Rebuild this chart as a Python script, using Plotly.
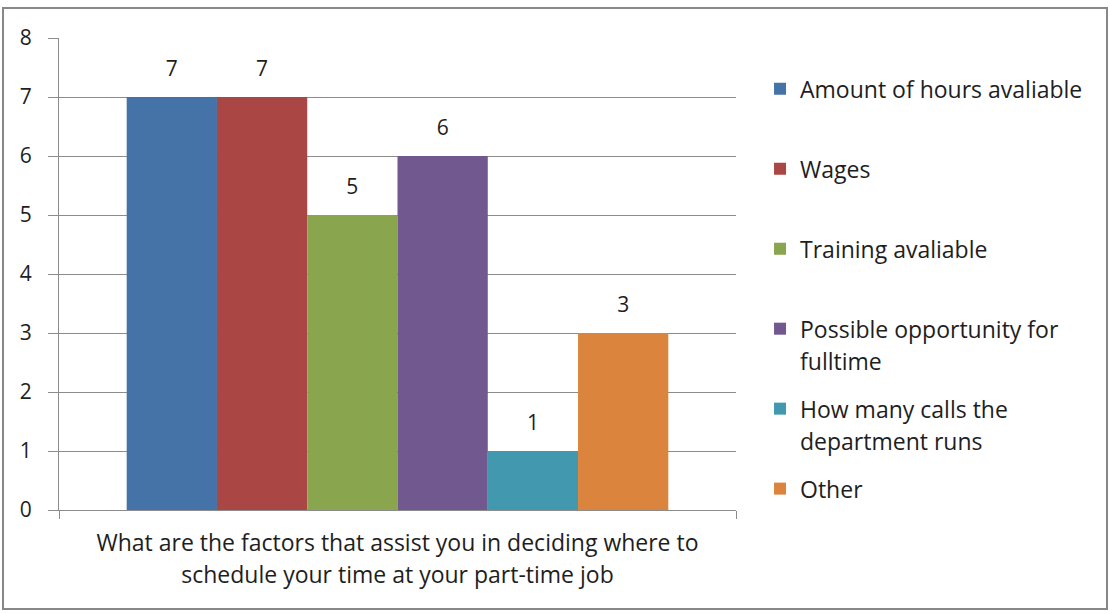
import plotly.graph_objects as go

category = ["What are the factors that assist you in deciding where to<br>schedule your time at your part-time job"]
series_names = [
    "Amount of hours avaliable",
    "Wages",
    "Training avaliable",
    "Possible opportunity for<br>fulltime",
    "How many calls the<br>department runs",
    "Other",
]
series_values = [7, 7, 5, 6, 1, 3]
series_colors = ["#4572A7", "#AA4643", "#89A54E", "#71588F", "#4198AF", "#DB843D"]

FONT = "Open Sans"
FS = 23      # legend / category label
FS_NUM = 21  # tick numbers and data labels
TXT = "#1e1e1e"
GRID = "#8c8c8c"


def span(s, size):
    return f"<span style='font-size:{size}px'>{s}</span>"


def legend_name(name, last):
    lines = name.split("<br>")
    if len(lines) == 1 and not last:
        lines.append("\u00a0")
    return "<br>".join(span(l, FS) for l in lines)


fig = go.Figure()
n = len(series_names)
for i, (name, val, col) in enumerate(zip(series_names, series_values, series_colors)):
    fig.add_trace(go.Bar(
        x=category,
        y=[val],
        name=legend_name(name, i == n - 1),
        legendgroup=name,
        marker=dict(color=col, line=dict(width=0)),
        text=[span(str(val), FS_NUM) + "<br>" + span("\u00a0", 1)],
        textposition="outside",
        textfont=dict(family=FONT, size=13.8, color=TXT),
        cliponaxis=False,
        hoverinfo="skip",
    ))

label_text = "<br>".join(span(l, FS) for l in category[0].split("<br>"))

fig.update_layout(
    width=1110,
    height=614,
    margin=dict(l=59, r=374, t=38, b=104),
    paper_bgcolor="white",
    plot_bgcolor="white",
    barmode="group",
    bargap=0.2,
    bargroupgap=0,
    font=dict(family=FONT, color=TXT, size=FS_NUM),
    showlegend=True,
    legend=dict(
        x=1.0355, y=0.94, xanchor="left", yanchor="top",
        font=dict(family=FONT, size=24.6, color=TXT),
        tracegroupgap=13,
        valign="top",
        bgcolor="rgba(0,0,0,0)",
    ),
    xaxis=dict(
        type="category",
        tickmode="array",
        tickvals=category,
        ticktext=[label_text],
        tickfont=dict(family=FONT, size=24.6, color=TXT),
        showline=True, linecolor=GRID, linewidth=1,
        ticks="outside", tickson="boundaries", ticklen=8, tickcolor=GRID,
        showgrid=False,
        ticklabelstandoff=10,
    ),
    yaxis=dict(
        range=[0, 8], dtick=1, tick0=0,
        showline=True, linecolor=GRID, linewidth=1,
        ticks="outside", ticklen=10, tickcolor=GRID,
        showgrid=True, gridcolor=GRID, gridwidth=1,
        zeroline=False,
        tickfont=dict(family=FONT, size=FS_NUM, color=TXT),
        ticklabelstandoff=12,
    ),
    shapes=[dict(
        type="rect", xref="paper", yref="paper",
        x0=-0.0827, x1=1.548, y0=-0.2097, y1=1.0636,
        line=dict(color="#888888", width=2), fillcolor="rgba(0,0,0,0)",
        layer="below",
    )],
)

fig.write_html(
    "out.html",
    config={"displayModeBar": False},
    post_script="document.body.style.margin='0';",
)
